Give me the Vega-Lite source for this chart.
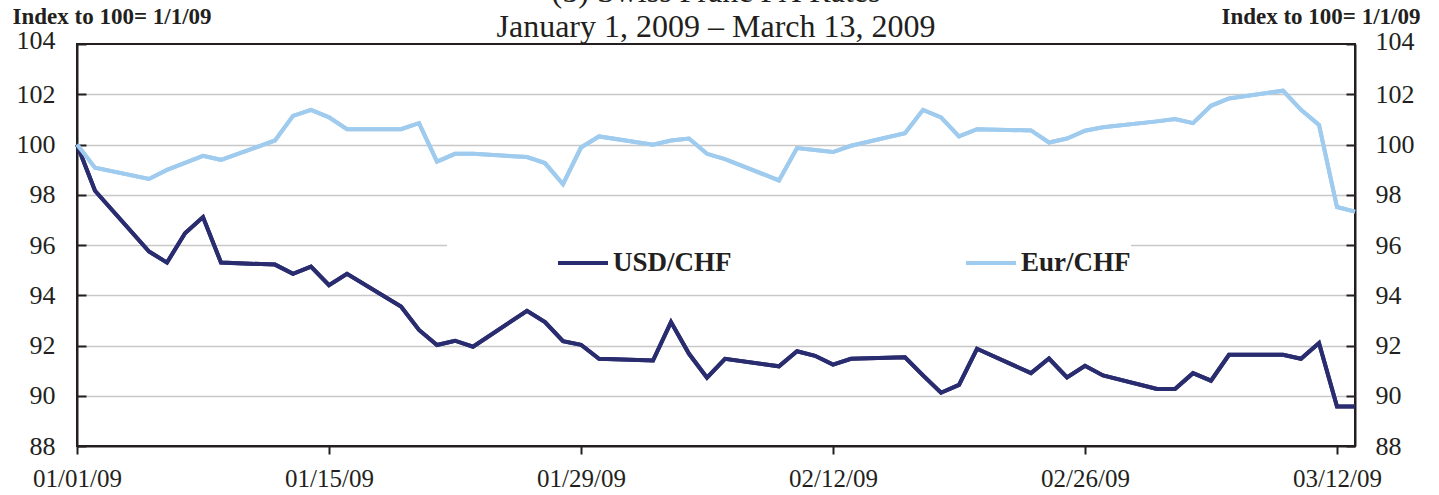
{
  "$schema": "https://vega.github.io/schema/vega-lite/v6.json",
  "width": 1278,
  "height": 402,
  "autosize": {"type": "none"},
  "padding": {"left": 77, "top": 44, "right": 84, "bottom": 49},
  "background": "white",
  "title": {
    "text": ["(5) Swiss Franc FX Rates", "January 1, 2009 – March 13, 2009"],
    "font": "Liberation Serif",
    "fontSize": 32,
    "fontWeight": "normal",
    "color": "#231f20",
    "lineHeight": 35,
    "anchor": "middle",
    "frame": "group",
    "offset": 2,
    "dy": 41
  },
  "data": {
    "values": [
      {"date": "2009-01-01", "series": "USD/CHF", "value": 100},
      {"date": "2009-01-02", "series": "USD/CHF", "value": 98.16},
      {"date": "2009-01-05", "series": "USD/CHF", "value": 95.74},
      {"date": "2009-01-06", "series": "USD/CHF", "value": 95.30},
      {"date": "2009-01-07", "series": "USD/CHF", "value": 96.47},
      {"date": "2009-01-08", "series": "USD/CHF", "value": 97.11},
      {"date": "2009-01-09", "series": "USD/CHF", "value": 95.30},
      {"date": "2009-01-12", "series": "USD/CHF", "value": 95.22},
      {"date": "2009-01-13", "series": "USD/CHF", "value": 94.85},
      {"date": "2009-01-14", "series": "USD/CHF", "value": 95.14},
      {"date": "2009-01-15", "series": "USD/CHF", "value": 94.40},
      {"date": "2009-01-16", "series": "USD/CHF", "value": 94.85},
      {"date": "2009-01-19", "series": "USD/CHF", "value": 93.55},
      {"date": "2009-01-20", "series": "USD/CHF", "value": 92.62},
      {"date": "2009-01-21", "series": "USD/CHF", "value": 92.02},
      {"date": "2009-01-22", "series": "USD/CHF", "value": 92.19},
      {"date": "2009-01-23", "series": "USD/CHF", "value": 91.95},
      {"date": "2009-01-26", "series": "USD/CHF", "value": 93.38},
      {"date": "2009-01-27", "series": "USD/CHF", "value": 92.93},
      {"date": "2009-01-28", "series": "USD/CHF", "value": 92.17},
      {"date": "2009-01-29", "series": "USD/CHF", "value": 92.03},
      {"date": "2009-01-30", "series": "USD/CHF", "value": 91.47},
      {"date": "2009-02-02", "series": "USD/CHF", "value": 91.40},
      {"date": "2009-02-03", "series": "USD/CHF", "value": 92.93},
      {"date": "2009-02-04", "series": "USD/CHF", "value": 91.67},
      {"date": "2009-02-05", "series": "USD/CHF", "value": 90.72},
      {"date": "2009-02-06", "series": "USD/CHF", "value": 91.47},
      {"date": "2009-02-09", "series": "USD/CHF", "value": 91.17},
      {"date": "2009-02-10", "series": "USD/CHF", "value": 91.77},
      {"date": "2009-02-11", "series": "USD/CHF", "value": 91.59},
      {"date": "2009-02-12", "series": "USD/CHF", "value": 91.24},
      {"date": "2009-02-13", "series": "USD/CHF", "value": 91.47},
      {"date": "2009-02-16", "series": "USD/CHF", "value": 91.53},
      {"date": "2009-02-17", "series": "USD/CHF", "value": 90.81},
      {"date": "2009-02-18", "series": "USD/CHF", "value": 90.12},
      {"date": "2009-02-19", "series": "USD/CHF", "value": 90.43},
      {"date": "2009-02-20", "series": "USD/CHF", "value": 91.87},
      {"date": "2009-02-23", "series": "USD/CHF", "value": 90.90},
      {"date": "2009-02-24", "series": "USD/CHF", "value": 91.48},
      {"date": "2009-02-25", "series": "USD/CHF", "value": 90.73},
      {"date": "2009-02-26", "series": "USD/CHF", "value": 91.19},
      {"date": "2009-02-27", "series": "USD/CHF", "value": 90.81},
      {"date": "2009-03-02", "series": "USD/CHF", "value": 90.27},
      {"date": "2009-03-03", "series": "USD/CHF", "value": 90.27},
      {"date": "2009-03-04", "series": "USD/CHF", "value": 90.90},
      {"date": "2009-03-05", "series": "USD/CHF", "value": 90.60},
      {"date": "2009-03-06", "series": "USD/CHF", "value": 91.63},
      {"date": "2009-03-09", "series": "USD/CHF", "value": 91.63},
      {"date": "2009-03-10", "series": "USD/CHF", "value": 91.47},
      {"date": "2009-03-11", "series": "USD/CHF", "value": 92.10},
      {"date": "2009-03-12", "series": "USD/CHF", "value": 89.57},
      {"date": "2009-03-13", "series": "USD/CHF", "value": 89.57},
      {"date": "2009-01-01", "series": "Eur/CHF", "value": 100},
      {"date": "2009-01-02", "series": "Eur/CHF", "value": 99.08},
      {"date": "2009-01-05", "series": "Eur/CHF", "value": 98.63},
      {"date": "2009-01-06", "series": "Eur/CHF", "value": 98.99},
      {"date": "2009-01-07", "series": "Eur/CHF", "value": 99.27},
      {"date": "2009-01-08", "series": "Eur/CHF", "value": 99.55},
      {"date": "2009-01-09", "series": "Eur/CHF", "value": 99.39},
      {"date": "2009-01-12", "series": "Eur/CHF", "value": 100.16},
      {"date": "2009-01-13", "series": "Eur/CHF", "value": 101.14},
      {"date": "2009-01-14", "series": "Eur/CHF", "value": 101.38},
      {"date": "2009-01-15", "series": "Eur/CHF", "value": 101.08},
      {"date": "2009-01-16", "series": "Eur/CHF", "value": 100.61},
      {"date": "2009-01-19", "series": "Eur/CHF", "value": 100.61},
      {"date": "2009-01-20", "series": "Eur/CHF", "value": 100.85},
      {"date": "2009-01-21", "series": "Eur/CHF", "value": 99.32},
      {"date": "2009-01-22", "series": "Eur/CHF", "value": 99.63},
      {"date": "2009-01-23", "series": "Eur/CHF", "value": 99.63},
      {"date": "2009-01-26", "series": "Eur/CHF", "value": 99.50},
      {"date": "2009-01-27", "series": "Eur/CHF", "value": 99.26},
      {"date": "2009-01-28", "series": "Eur/CHF", "value": 98.42},
      {"date": "2009-01-29", "series": "Eur/CHF", "value": 99.88},
      {"date": "2009-01-30", "series": "Eur/CHF", "value": 100.32},
      {"date": "2009-02-02", "series": "Eur/CHF", "value": 99.99},
      {"date": "2009-02-03", "series": "Eur/CHF", "value": 100.16},
      {"date": "2009-02-04", "series": "Eur/CHF", "value": 100.24},
      {"date": "2009-02-05", "series": "Eur/CHF", "value": 99.63},
      {"date": "2009-02-06", "series": "Eur/CHF", "value": 99.42},
      {"date": "2009-02-09", "series": "Eur/CHF", "value": 98.57},
      {"date": "2009-02-10", "series": "Eur/CHF", "value": 99.86},
      {"date": "2009-02-11", "series": "Eur/CHF", "value": 99.78},
      {"date": "2009-02-12", "series": "Eur/CHF", "value": 99.70},
      {"date": "2009-02-13", "series": "Eur/CHF", "value": 99.95},
      {"date": "2009-02-16", "series": "Eur/CHF", "value": 100.45},
      {"date": "2009-02-17", "series": "Eur/CHF", "value": 101.38},
      {"date": "2009-02-18", "series": "Eur/CHF", "value": 101.08},
      {"date": "2009-02-19", "series": "Eur/CHF", "value": 100.32},
      {"date": "2009-02-20", "series": "Eur/CHF", "value": 100.61},
      {"date": "2009-02-23", "series": "Eur/CHF", "value": 100.56},
      {"date": "2009-02-24", "series": "Eur/CHF", "value": 100.08},
      {"date": "2009-02-25", "series": "Eur/CHF", "value": 100.24},
      {"date": "2009-02-26", "series": "Eur/CHF", "value": 100.55},
      {"date": "2009-02-27", "series": "Eur/CHF", "value": 100.69},
      {"date": "2009-03-02", "series": "Eur/CHF", "value": 100.92},
      {"date": "2009-03-03", "series": "Eur/CHF", "value": 101.01},
      {"date": "2009-03-04", "series": "Eur/CHF", "value": 100.85},
      {"date": "2009-03-05", "series": "Eur/CHF", "value": 101.54},
      {"date": "2009-03-06", "series": "Eur/CHF", "value": 101.83},
      {"date": "2009-03-09", "series": "Eur/CHF", "value": 102.14},
      {"date": "2009-03-10", "series": "Eur/CHF", "value": 101.38},
      {"date": "2009-03-11", "series": "Eur/CHF", "value": 100.78},
      {"date": "2009-03-12", "series": "Eur/CHF", "value": 97.51},
      {"date": "2009-03-13", "series": "Eur/CHF", "value": 97.33}
    ]
  },
  "layer": [
    {
      "mark": {"type": "line", "strokeWidth": 4},
      "encoding": {
        "x": {
          "field": "date",
          "type": "temporal",
          "scale": {
            "type": "utc",
            "domain": [
              {"year": 2009, "month": 1, "date": 1, "utc": true},
              {"year": 2009, "month": 3, "date": 13, "utc": true}
            ]
          },
          "axis": {
            "values": [
              {"year": 2009, "month": 1, "date": 1, "utc": true},
              {"year": 2009, "month": 1, "date": 15, "utc": true},
              {"year": 2009, "month": 1, "date": 29, "utc": true},
              {"year": 2009, "month": 2, "date": 12, "utc": true},
              {"year": 2009, "month": 2, "date": 26, "utc": true},
              {"year": 2009, "month": 3, "date": 12, "utc": true}
            ],
            "format": "%m/%d/%y",
            "title": null,
            "grid": false,
            "labelFlush": false,
            "tickSize": 8,
            "tickWidth": 2,
            "tickColor": "#231f20",
            "domainColor": "#231f20",
            "domainWidth": 2,
            "labelFont": "Liberation Serif",
            "labelFontSize": 25,
            "labelColor": "#231f20",
            "labelPadding": 12
          }
        },
        "y": {
          "field": "value",
          "type": "quantitative",
          "scale": {"domain": [88, 104], "nice": false, "zero": false},
          "axis": {
            "orient": "left",
            "values": [88, 90, 92, 94, 96, 98, 100, 102, 104],
            "grid": true,
            "gridColor": {"condition": {"test": "datum.value == 88 || datum.value == 104", "value": "transparent"}, "value": "#c8c8c8"},
            "gridWidth": 1.5,
            "tickSize": -9,
            "tickWidth": 2,
            "tickColor": "#231f20",
            "domainColor": "#231f20",
            "domainWidth": 2,
            "labelFont": "Liberation Serif",
            "labelFontSize": 26,
            "labelColor": "#231f20",
            "labelPadding": 31,
            "labelOffset": {"condition": {"test": "datum.value == 104", "value": -4}, "value": 0},
            "title": "Index to 100= 1/1/09",
            "titleAngle": 0,
            "titleX": -65,
            "titleY": -21,
            "titleAlign": "left",
            "titleBaseline": "alphabetic",
            "titleFont": "Liberation Serif",
            "titleFontSize": 23,
            "titleFontWeight": "bold",
            "titleColor": "#231f20"
          }
        },
        "color": {
          "field": "series",
          "type": "nominal",
          "scale": {"domain": ["USD/CHF", "Eur/CHF"], "range": ["#2a2c70", "#9fcbee"]},
          "legend": {
            "orient": "none",
            "legendX": 370,
            "legendY": 192,
            "direction": "horizontal",
            "columns": 2,
            "title": null,
            "symbolType": "stroke",
            "symbolSize": 2500,
            "symbolStrokeWidth": 4,
            "symbolOffset": 109,
            "labelOffset": 3,
            "columnPadding": 123,
            "padding": 0,
            "fillColor": "white",
            "labelFont": "Liberation Serif",
            "labelFontSize": 27,
            "labelFontWeight": "bold",
            "labelColor": "#231f20",
            "labelLimit": 500,
            "labelExpr": "datum.label == 'Eur/CHF' ? datum.label + '\u00a0\u00a0\u00a0\u00a0\u00a0\u00a0\u00a0\u00a0\u00a0\u00a0\u00a0\u00a0\u00a0\u00a0\u00a0\u00a0' : datum.label"
          }
        }
      }
    },
    {
      "mark": {"type": "line", "strokeWidth": 4},
      "encoding": {
        "x": {"field": "date", "type": "temporal"},
        "y": {
          "field": "value",
          "type": "quantitative",
          "axis": {
            "orient": "right",
            "values": [88, 90, 92, 94, 96, 98, 100, 102, 104],
            "grid": false,
            "tickSize": -9,
            "tickWidth": 2,
            "tickColor": "#231f20",
            "domainColor": "#231f20",
            "domainWidth": 2,
            "labelFont": "Liberation Serif",
            "labelFontSize": 26,
            "labelColor": "#231f20",
            "labelPadding": 29,
            "labelOffset": {"condition": {"test": "datum.value == 104", "value": -3}, "value": 0},
            "title": "Index to 100= 1/1/09",
            "titleAngle": 0,
            "titleX": 65,
            "titleY": -21,
            "titleAlign": "right",
            "titleBaseline": "alphabetic",
            "titleFont": "Liberation Serif",
            "titleFontSize": 23,
            "titleFontWeight": "bold",
            "titleColor": "#231f20"
          }
        },
        "color": {"field": "series", "type": "nominal"}
      }
    }
  ],
  "resolve": {"axis": {"y": "independent"}},
  "config": {
    "view": {"stroke": "#231f20", "strokeWidth": 2},
    "axis": {"labelFlush": false}
  }
}
